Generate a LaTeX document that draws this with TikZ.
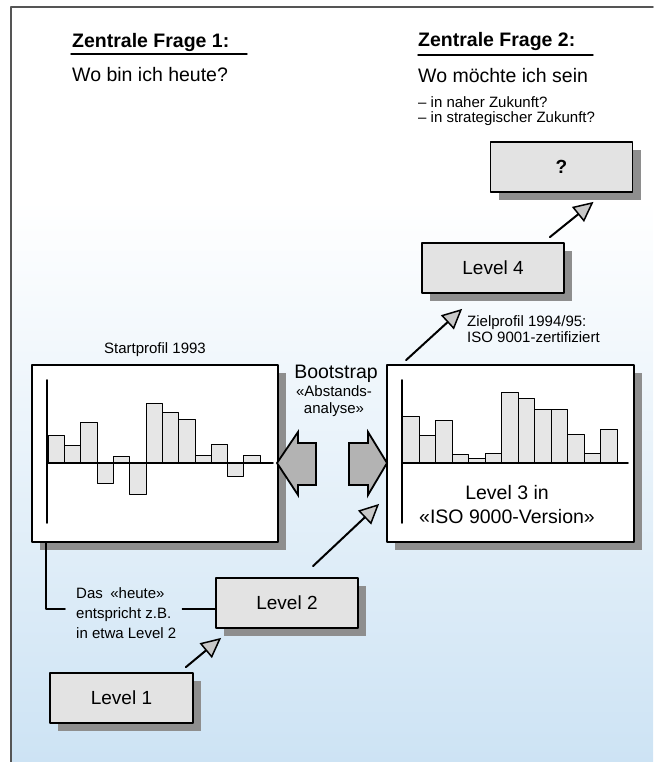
\documentclass[tikz,border=0pt]{standalone}
\usepackage{fontspec}
\setmainfont{Liberation Sans}
\usetikzlibrary{arrows.meta,positioning,shadows}

\definecolor{shadowgray}{HTML}{8E8E8E}
\definecolor{boxgray}{HTML}{E3E3E3}
\definecolor{bargray}{HTML}{E6E6E6}
\definecolor{blockgray}{HTML}{B3B3B3}
\definecolor{arrowgray}{HTML}{C8C8C8}
\definecolor{bgblue}{HTML}{CDE3F4}
\definecolor{framegray}{HTML}{555555}

\tikzset{
  levelbox/.style={draw=black, line width=1.8pt, fill=boxgray, minimum width=142pt, minimum height=50pt, inner sep=0pt,
    font=\fontsize{19}{23}\selectfont, general shadow={fill=shadowgray, shadow xshift=8pt, shadow yshift=-8pt}},
  profilebox/.style={levelbox, fill=white, minimum width=246pt, minimum height=177pt},
  bar/.style={draw=black, line width=1pt, fill=bargray},
  axis/.style={line width=1.8pt},
  blockarrow/.style={draw=black, line width=1.8pt, fill=blockgray, line join=miter},
  flowarrow/.style={line width=2pt, -{Triangle[length=20pt,width=19pt,fill=arrowgray,line width=1.5pt]}},
  noteline/.style={line width=1.8pt},
  frage/.style={font=\bfseries\fontsize{19.5}{23}\selectfont, inner sep=0pt},
  bigtext/.style={font=\fontsize{19.5}{24}\selectfont, inner sep=0pt},
  smalltext/.style={font=\fontsize{15}{16.5}\selectfont, inner sep=0pt, align=left}
}

\begin{document}
\begin{tikzpicture}[x=1pt, y=-1pt, line join=round, line cap=round]
\useasboundingbox (0,0) rectangle (653,762);
% Hintergrund und Rahmen
\fill[white] (0,0) rectangle (653,762);
\shade[top color=white, bottom color=bgblue] (11,200) rectangle (653,762);
\draw[framegray, line width=1.5pt] (11,762) -- (11,7) -- (653,7);

% zentrale Fragen
\node[frage, anchor=base west] (frage1) at (72,48) {Zentrale Frage 1:};
\draw[line width=1.4pt] ([xshift=-1pt,yshift=-6pt]frage1.base west) -- ++(176,0);
\node[bigtext, anchor=base west] (heute) at (72,82) {Wo bin ich heute?};
\node[frage, anchor=base west] (frage2) at (418,47) {Zentrale Frage 2:};
\draw[line width=1.4pt] ([yshift=-8pt]frage2.base west) -- ++(175,0);
\node[bigtext, anchor=base west] (sein) at (418,83) {Wo möchte ich sein};
\node[smalltext, anchor=base west] (nah) at (418,108) {– in naher Zukunft?};
\node[smalltext, anchor=base west] (strat) at (418,123) {– in strategischer Zukunft?};

% Level
\node[levelbox, font=\bfseries\fontsize{19}{23}\selectfont] (ziel) at (561.5,167) {?};
\node[levelbox] (l4) at (493,268) {Level 4};
\node[profilebox] (start) at (155,453.5) {};
\node[profilebox, minimum width=247pt] (l3) at (510.5,453.5) {};
\node[levelbox] (l2) at (287,603) {Level 2};
\node[levelbox, minimum width=143pt] (l1) at (121.5,698) {Level 1};

% Profile
\foreach \h [count=\i from 0] in {28,18,41,-20,7,-31,60,51,44,8,19,-13,8}
  \draw[bar] (48.3+16.3*\i,463) rectangle ++(16.3,{-(\h)});
\draw[axis] (47,380) -- (47,523);
\draw[axis] (47,463) -- (273,463);
\foreach \h [count=\i from 0] in {47,28,43,9,5,10,71,65,54,54,29,10,34}
  \draw[bar] (402.7+16.5*\i,463) rectangle ++(16.5,{-(\h)});
\draw[axis] (402,380) -- (402,523);
\draw[axis] (402,463) -- (628,463);

% Texte
\node[smalltext, above=7pt of start] (starttitel) {Startprofil 1993};
\node[bigtext] (boot) at (336,374) {Bootstrap};
\node[smalltext, align=center] (abstand) at (334,401) {«Abstands-\\analyse»};
\node[bigtext, align=center] (l3text) at (507,505) {Level 3 in\\«ISO 9000-Version»};
\node[smalltext, anchor=west] (zielprofil) at (467,329) {Zielprofil 1994/95:\\ISO 9001-zertifiziert};
\node[smalltext, anchor=west, font=\fontsize{15}{20}\selectfont] (anmerkung) at (76,613)
  {Das\enspace«heute»\\entspricht z.B.\\in etwa Level 2};

% Bootstrap-Pfeile
\draw[blockarrow] (316,443) -- (298,443) -- (298,432) -- (277,463) -- (298,495) -- (298,485) -- (316,485) -- cycle;
\draw[blockarrow] (349,443) -- (368,443) -- (368,432) -- (387,463) -- (368,495) -- (368,485) -- (349,485) -- cycle;

% Verbindungen
\draw[flowarrow] ([xshift=-8pt,yshift=5pt]l1.north east) -- ([xshift=6pt,yshift=-9pt]l2.south west);
\draw[flowarrow] ([xshift=26pt,yshift=11pt]l2.north) -- ([xshift=-7pt,yshift=39pt]l3.south west);
\draw[flowarrow] ([xshift=20pt,yshift=4pt]l3.north west) -- ([xshift=41pt,yshift=-15pt]l4.south west);
\draw[flowarrow] ([xshift=-15pt,yshift=5pt]l4.north east) -- ([xshift=32pt,yshift=-9pt]ziel.south);
\draw[noteline] ([xshift=15pt]start.south west) |- ([xshift=-11pt,yshift=4pt]anmerkung.west);
\draw[noteline] ([xshift=6pt,yshift=4pt]anmerkung.east) -- ([yshift=-6pt]l2.west);
\end{tikzpicture}
\end{document}
